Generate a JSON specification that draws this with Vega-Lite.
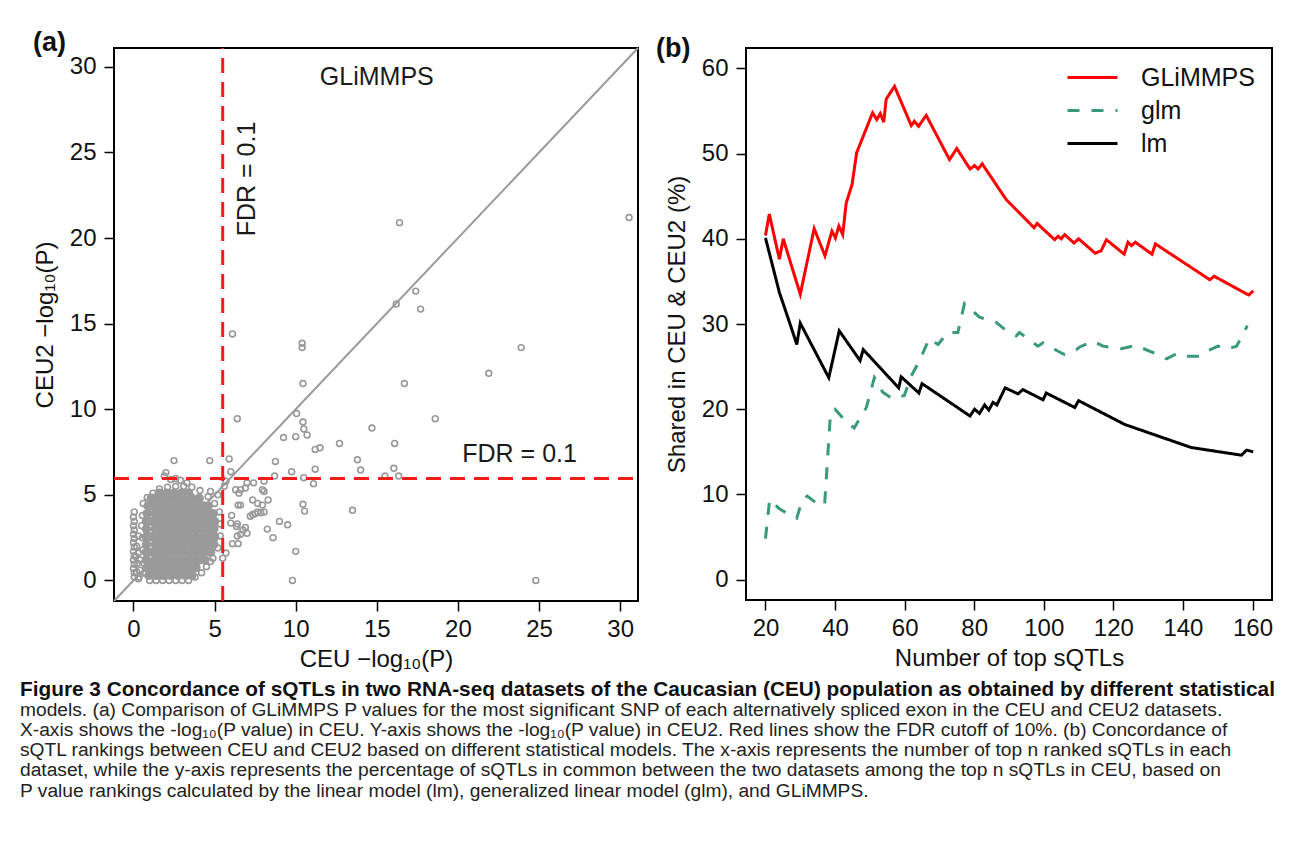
{
  "$schema": "https://vega.github.io/schema/vega-lite/v6.json",
  "background": "white",
  "padding": {"left": 20, "top": 28, "right": 5, "bottom": 5},
  "config": {
    "font": "Liberation Sans",
    "view": {"stroke": "#000", "strokeWidth": 2},
    "axis": {"domain": false, "grid": false, "tickSize": 10, "tickWidth": 1.5, "tickColor": "#000", "labelFont": "Liberation Sans", "labelFontSize": 24, "labelColor": "#111", "labelPadding": 6, "labelFlush": false, "labelOverlap": false, "titleFont": "Liberation Sans", "titleFontSize": 24, "titleFontWeight": "normal", "titleColor": "#111", "titlePadding": 6},
    "axisY": {"labelPadding": 8, "titlePadding": 12}
  },
  "datasets": {
    "core": [
      {"x":0.95,"y":0.3},{"x":1.4,"y":0.3},{"x":1.85,"y":0.3},{"x":2.3,"y":0.3},{"x":2.75,"y":0.3},{"x":3.2,"y":0.3},{"x":3.6,"y":0.3},
      {"x":0.85,"y":0.75},{"x":1.15,"y":0.75},{"x":1.6,"y":0.75},{"x":2.05,"y":0.75},{"x":2.5,"y":0.75},{"x":2.95,"y":0.75},{"x":3.4,"y":0.75},{"x":3.85,"y":0.75},
      {"x":0.8,"y":1.2},{"x":1.35,"y":1.2},{"x":1.8,"y":1.2},{"x":2.25,"y":1.2},{"x":2.7,"y":1.2},{"x":3.15,"y":1.2},{"x":3.6,"y":1.2},{"x":4.05,"y":1.2},{"x":4.4,"y":1.2},
      {"x":0.8,"y":1.65},{"x":1.15,"y":1.65},{"x":1.6,"y":1.65},{"x":2.05,"y":1.65},{"x":2.5,"y":1.65},{"x":2.95,"y":1.65},{"x":3.4,"y":1.65},{"x":3.85,"y":1.65},{"x":4.3,"y":1.65},{"x":4.75,"y":1.65},
      {"x":0.8,"y":2.1},{"x":1.35,"y":2.1},{"x":1.8,"y":2.1},{"x":2.25,"y":2.1},{"x":2.7,"y":2.1},{"x":3.15,"y":2.1},{"x":3.6,"y":2.1},{"x":4.05,"y":2.1},{"x":4.5,"y":2.1},{"x":4.95,"y":2.1},
      {"x":0.8,"y":2.55},{"x":1.15,"y":2.55},{"x":1.6,"y":2.55},{"x":2.05,"y":2.55},{"x":2.5,"y":2.55},{"x":2.95,"y":2.55},{"x":3.4,"y":2.55},{"x":3.85,"y":2.55},{"x":4.3,"y":2.55},{"x":4.75,"y":2.55},{"x":5.0,"y":2.55},
      {"x":0.8,"y":3.0},{"x":1.35,"y":3.0},{"x":1.8,"y":3.0},{"x":2.25,"y":3.0},{"x":2.7,"y":3.0},{"x":3.15,"y":3.0},{"x":3.6,"y":3.0},{"x":4.05,"y":3.0},{"x":4.5,"y":3.0},{"x":4.95,"y":3.0},
      {"x":0.8,"y":3.45},{"x":1.15,"y":3.45},{"x":1.6,"y":3.45},{"x":2.05,"y":3.45},{"x":2.5,"y":3.45},{"x":2.95,"y":3.45},{"x":3.4,"y":3.45},{"x":3.85,"y":3.45},{"x":4.3,"y":3.45},{"x":4.75,"y":3.45},{"x":5.0,"y":3.45},
      {"x":0.85,"y":3.9},{"x":1.35,"y":3.9},{"x":1.8,"y":3.9},{"x":2.25,"y":3.9},{"x":2.7,"y":3.9},{"x":3.15,"y":3.9},{"x":3.6,"y":3.9},{"x":4.05,"y":3.9},{"x":4.5,"y":3.9},{"x":4.9,"y":3.9},
      {"x":0.9,"y":4.35},{"x":1.15,"y":4.35},{"x":1.6,"y":4.35},{"x":2.05,"y":4.35},{"x":2.5,"y":4.35},{"x":2.95,"y":4.35},{"x":3.4,"y":4.35},{"x":3.85,"y":4.35},{"x":4.3,"y":4.35},{"x":4.6,"y":4.35},
      {"x":1.1,"y":4.8},{"x":1.35,"y":4.8},{"x":1.8,"y":4.8},{"x":2.25,"y":4.8},{"x":2.7,"y":4.8},{"x":3.15,"y":4.8},{"x":3.6,"y":4.8},{"x":4.05,"y":4.8},
      {"x":1.6,"y":5.1},{"x":2.05,"y":5.1},{"x":2.5,"y":5.1},{"x":2.95,"y":5.1},{"x":3.4,"y":5.1}
    ],
    "pts": [
      {"x":6.1,"y":14.4},{"x":10.4,"y":13.85},{"x":10.4,"y":13.6},{"x":23.9,"y":13.6},{"x":16.4,"y":20.9},{"x":30.55,"y":21.2},{"x":16.2,"y":16.15},{"x":17.4,"y":16.9},{"x":17.7,"y":15.85},
      {"x":10.45,"y":11.5},{"x":21.9,"y":12.1},{"x":16.7,"y":11.5},{"x":10.05,"y":9.75},{"x":6.4,"y":9.45},{"x":18.6,"y":9.45},{"x":10.45,"y":9.25},{"x":10.5,"y":8.85},{"x":10.7,"y":8.5},
      {"x":9.25,"y":8.35},{"x":10.0,"y":8.4},{"x":14.7,"y":8.9},{"x":12.7,"y":8.0},{"x":16.1,"y":8.0},{"x":11.2,"y":7.65},{"x":11.5,"y":7.75},{"x":13.8,"y":7.05},{"x":14.0,"y":6.45},
      {"x":8.75,"y":6.95},{"x":11.2,"y":6.5},{"x":9.75,"y":6.35},{"x":8.7,"y":6.1},{"x":10.5,"y":6.0},{"x":11.1,"y":5.65},{"x":15.5,"y":6.1},{"x":16.05,"y":6.55},{"x":16.35,"y":6.1},
      {"x":13.5,"y":4.1},{"x":24.8,"y":0.0},{"x":9.8,"y":0.0},{"x":10.0,"y":1.7},{"x":10.45,"y":4.45},{"x":10.55,"y":4.05},{"x":8.25,"y":3.0},{"x":8.6,"y":2.5},{"x":9.0,"y":3.45},{"x":9.5,"y":3.25},
      {"x":7.35,"y":4.7},{"x":7.95,"y":5.3},{"x":7.4,"y":5.7},{"x":8.05,"y":5.8},{"x":8.3,"y":4.7},{"x":6.6,"y":5.3},{"x":6.45,"y":4.4},{"x":5.9,"y":7.1},{"x":4.7,"y":7.0},{"x":2.5,"y":7.0},
      {"x":6.0,"y":6.35},{"x":7.35,"y":3.85},{"x":7.2,"y":3.75},{"x":6.05,"y":3.8},{"x":6.35,"y":3.15},{"x":6.75,"y":2.95},{"x":7.0,"y":2.75},{"x":6.1,"y":2.15},{"x":6.45,"y":2.15},
      {"x":7.85,"y":3.95},{"x":7.65,"y":4.0},{"x":7.5,"y":3.9},{"x":7.95,"y":4.4},{"x":7.65,"y":4.5},{"x":8.05,"y":4.0},{"x":8.05,"y":5.2},{"x":6.9,"y":5.4},{"x":6.5,"y":5.1},{"x":6.6,"y":4.4},
      {"x":5.7,"y":5.8},{"x":5.2,"y":5.0},{"x":4.75,"y":5.2},{"x":3.3,"y":5.7},{"x":2.9,"y":5.85},{"x":2.0,"y":6.3},{"x":1.9,"y":6.1},{"x":2.3,"y":5.9},{"x":2.6,"y":5.95},{"x":5.6,"y":5.5},
      {"x":4.75,"y":1.1},{"x":5.5,"y":1.3},{"x":5.7,"y":1.6},{"x":6.0,"y":3.35},{"x":6.4,"y":3.3},{"x":6.6,"y":2.7},{"x":6.9,"y":3.1},{"x":6.4,"y":2.6},{"x":7.0,"y":5.7},{"x":6.3,"y":5.3},
      {"x":0.6,"y":4.5},{"x":0.55,"y":3.8},{"x":0.5,"y":3.2},{"x":0.55,"y":2.5},{"x":0.6,"y":1.8},{"x":0.65,"y":1.0},{"x":0.75,"y":0.4},
      {"x":1.0,"y":0.0},{"x":1.4,"y":0.0},{"x":1.8,"y":0.0},{"x":2.2,"y":0.0},{"x":2.6,"y":0.0},{"x":3.0,"y":0.0},{"x":3.4,"y":0.0},
      {"x":3.8,"y":0.2},{"x":4.2,"y":0.45},{"x":4.5,"y":0.8},{"x":4.9,"y":1.3},{"x":5.2,"y":1.9},{"x":5.35,"y":2.6},{"x":5.35,"y":3.3},{"x":5.3,"y":4.0},{"x":5.0,"y":4.5},{"x":4.6,"y":4.9},
      {"x":4.1,"y":5.25},{"x":3.6,"y":5.45},{"x":3.1,"y":5.5},{"x":2.6,"y":5.5},{"x":2.1,"y":5.45},{"x":1.6,"y":5.35},{"x":1.2,"y":5.1},{"x":0.85,"y":4.85},
      {"x":0.05,"y":0.2},{"x":0.05,"y":0.45},{"x":0.0,"y":0.7},{"x":0.05,"y":0.95},{"x":0.0,"y":1.2},{"x":0.05,"y":1.45},{"x":0.0,"y":1.7},{"x":0.05,"y":1.95},{"x":0.0,"y":2.2},{"x":0.05,"y":2.45},
      {"x":0.0,"y":2.7},{"x":0.05,"y":2.95},{"x":0.0,"y":3.2},{"x":0.05,"y":3.45},{"x":0.0,"y":3.7},{"x":0.05,"y":4.0},
      {"x":0.2,"y":0.5},{"x":0.25,"y":1.0},{"x":0.3,"y":1.6},{"x":0.35,"y":0.2},{"x":0.2,"y":2.0},{"x":0.3,"y":2.6},{"x":0.4,"y":1.2},{"x":0.4,"y":0.6},{"x":0.15,"y":1.4},{"x":0.3,"y":0.1}
    ]
  },
  "title": {
    "text": "Figure 3 Concordance of sQTLs in two RNA-seq datasets of the Caucasian (CEU) population as obtained by different statistical",
    "subtitle": [
      "models. (a) Comparison of GLiMMPS P values for the most significant SNP of each alternatively spliced exon in the CEU and CEU2 datasets.",
      "X-axis shows the -log₁₀(P value) in CEU. Y-axis shows the -log₁₀(P value) in CEU2. Red lines show the FDR cutoff of 10%. (b) Concordance of",
      "sQTL rankings between CEU and CEU2 based on different statistical models. The x-axis represents the number of top n ranked sQTLs in each",
      "dataset, while the y-axis represents the percentage of sQTLs in common between the two datasets among the top n sQTLs in CEU, based on",
      "P value rankings calculated by the linear model (lm), generalized linear model (glm), and GLiMMPS."
    ],
    "orient": "bottom",
    "anchor": "start",
    "frame": "bounds",
    "dx": -12,
    "offset": 8,
    "font": "Liberation Sans",
    "fontSize": 20.8,
    "fontWeight": "bold",
    "color": "#111",
    "subtitleFont": "Liberation Sans",
    "subtitleFontSize": 19.2,
    "subtitleColor": "#222",
    "subtitleLineHeight": 20.2,
    "subtitlePadding": 0
  },
  "bounds": "flush",
  "spacing": 108,
  "hconcat": [
    {
      "width": 524,
      "height": 553,
      "title": {"text": "(a)", "anchor": "start", "frame": "group", "dx": -81, "offset": -36, "baseline": "alphabetic", "fontSize": 27, "fontWeight": "bold", "color": "#111"},
      "encoding": {
        "x": {"field": "x", "type": "quantitative", "scale": {"domain": [-1.2, 31.1], "nice": false, "zero": false}, "axis": {"values": [0, 5, 10, 15, 20, 25, 30], "title": "CEU  −log₁₀(P)"}},
        "y": {"field": "y", "type": "quantitative", "scale": {"domain": [-1.2, 31.1], "nice": false, "zero": false}, "axis": {"values": [0, 5, 10, 15, 20, 25, 30], "title": "CEU2  −log₁₀(P)"}}
      },
      "layer": [
        {"data": {"values": [{"x": -1.2, "y": -1.2}, {"x": 31.1, "y": 31.1}]}, "mark": {"type": "line", "color": "#9a9a9a", "strokeWidth": 2}},
        {"data": {"name": "core"}, "mark": {"type": "point", "shape": "circle", "filled": true, "size": 90, "color": "#9a9a9a", "opacity": 1}},
        {"data": {"name": "pts"}, "mark": {"type": "point", "shape": "circle", "filled": false, "size": 34, "strokeWidth": 1.6, "color": "#999999", "opacity": 1}},
        {"data": {"values": [{"x": 5.5, "y": -1.2, "g": "v"}, {"x": 5.5, "y": 31.1, "g": "v"}, {"x": -1.2, "y": 5.95, "g": "h"}, {"x": 31.1, "y": 5.95, "g": "h"}]}, "mark": {"type": "line", "color": "#ff1a1a", "strokeWidth": 3, "strokeDash": [15, 9]}, "encoding": {"detail": {"field": "g"}}},
        {"data": {"values": [{"x": 15.0, "y": 29.4, "t": "GLiMMPS"}, {"x": 23.8, "y": 7.37, "t": "FDR = 0.1"}]}, "mark": {"type": "text", "fontSize": 25, "color": "#1a1a1a"}, "encoding": {"text": {"field": "t"}}},
        {"data": {"values": [{"x": 7.0, "y": 23.45, "t": "FDR = 0.1"}]}, "mark": {"type": "text", "fontSize": 25, "angle": 270, "color": "#1a1a1a"}, "encoding": {"text": {"field": "t"}}}
      ]
    },
    {
      "width": 526,
      "height": 552,
      "title": {"text": "(b)", "anchor": "start", "frame": "group", "dx": -90, "offset": -36, "baseline": "alphabetic", "fontSize": 27, "fontWeight": "bold", "color": "#111"},
      "data": {"values": [
        {"m":"GLiMMPS","n":20,"v":40.4},{"m":"GLiMMPS","n":21.1,"v":42.9},{"m":"GLiMMPS","n":24,"v":37.6},{"m":"GLiMMPS","n":25.1,"v":40.0},{"m":"GLiMMPS","n":30,"v":33.5},{"m":"GLiMMPS","n":34,"v":41.2},{"m":"GLiMMPS","n":37.1,"v":38.0},{"m":"GLiMMPS","n":39.1,"v":40.9},{"m":"GLiMMPS","n":40.1,"v":40.1},{"m":"GLiMMPS","n":41.1,"v":41.5},{"m":"GLiMMPS","n":42.2,"v":40.5},{"m":"GLiMMPS","n":43.2,"v":44.2},{"m":"GLiMMPS","n":44.9,"v":46.4},{"m":"GLiMMPS","n":46.2,"v":50.1},{"m":"GLiMMPS","n":50.8,"v":54.8},{"m":"GLiMMPS","n":52,"v":54.0},{"m":"GLiMMPS","n":53,"v":54.7},{"m":"GLiMMPS","n":54,"v":53.7},{"m":"GLiMMPS","n":54.7,"v":56.4},{"m":"GLiMMPS","n":57.1,"v":57.9},{"m":"GLiMMPS","n":61.9,"v":53.3},{"m":"GLiMMPS","n":62.8,"v":53.8},{"m":"GLiMMPS","n":64,"v":53.2},{"m":"GLiMMPS","n":66.2,"v":54.5},{"m":"GLiMMPS","n":72.9,"v":49.3},{"m":"GLiMMPS","n":75,"v":50.6},{"m":"GLiMMPS","n":78.8,"v":48.2},{"m":"GLiMMPS","n":80.1,"v":48.6},{"m":"GLiMMPS","n":81.1,"v":48.2},{"m":"GLiMMPS","n":82.3,"v":48.8},{"m":"GLiMMPS","n":89.2,"v":44.6},{"m":"GLiMMPS","n":97.2,"v":41.3},{"m":"GLiMMPS","n":98.1,"v":41.8},{"m":"GLiMMPS","n":103.1,"v":39.9},{"m":"GLiMMPS","n":104.1,"v":40.3},{"m":"GLiMMPS","n":105,"v":40.0},{"m":"GLiMMPS","n":106,"v":40.5},{"m":"GLiMMPS","n":108.7,"v":39.5},{"m":"GLiMMPS","n":110,"v":40.0},{"m":"GLiMMPS","n":114.8,"v":38.3},{"m":"GLiMMPS","n":116.5,"v":38.6},{"m":"GLiMMPS","n":118,"v":39.9},{"m":"GLiMMPS","n":123.1,"v":38.2},{"m":"GLiMMPS","n":124.2,"v":39.6},{"m":"GLiMMPS","n":125.2,"v":39.2},{"m":"GLiMMPS","n":126.3,"v":39.6},{"m":"GLiMMPS","n":131.1,"v":38.2},{"m":"GLiMMPS","n":132.1,"v":39.4},{"m":"GLiMMPS","n":147.7,"v":35.2},{"m":"GLiMMPS","n":149,"v":35.6},{"m":"GLiMMPS","n":158.9,"v":33.4},{"m":"GLiMMPS","n":160.2,"v":33.9},
        {"m":"glm","n":20,"v":4.8},{"m":"glm","n":21.2,"v":9.4},{"m":"glm","n":24,"v":8.3},{"m":"glm","n":27,"v":7.6},{"m":"glm","n":29,"v":7.2},{"m":"glm","n":30.5,"v":9.3},{"m":"glm","n":32,"v":9.8},{"m":"glm","n":35.5,"v":8.7},{"m":"glm","n":37,"v":8.8},{"m":"glm","n":38.7,"v":19.6},{"m":"glm","n":40,"v":20.0},{"m":"glm","n":43,"v":18.6},{"m":"glm","n":45.5,"v":17.8},{"m":"glm","n":49,"v":20.2},{"m":"glm","n":51.3,"v":23.7},{"m":"glm","n":53.7,"v":22.0},{"m":"glm","n":56.6,"v":21.2},{"m":"glm","n":59.9,"v":21.6},{"m":"glm","n":61.9,"v":23.9},{"m":"glm","n":64.3,"v":25.7},{"m":"glm","n":67.1,"v":28.3},{"m":"glm","n":69.6,"v":27.6},{"m":"glm","n":72.4,"v":29.0},{"m":"glm","n":75.3,"v":29.0},{"m":"glm","n":77.2,"v":32.4},{"m":"glm","n":81.5,"v":30.8},{"m":"glm","n":86.3,"v":30.2},{"m":"glm","n":88.7,"v":29.4},{"m":"glm","n":92.1,"v":28.6},{"m":"glm","n":93,"v":29.0},{"m":"glm","n":98.3,"v":27.4},{"m":"glm","n":99.8,"v":27.8},{"m":"glm","n":104.1,"v":26.8},{"m":"glm","n":106,"v":26.4},{"m":"glm","n":109.4,"v":27.0},{"m":"glm","n":110.3,"v":27.3},{"m":"glm","n":114.2,"v":28.0},{"m":"glm","n":117,"v":27.4},{"m":"glm","n":122.3,"v":27.1},{"m":"glm","n":126.6,"v":27.5},{"m":"glm","n":128.1,"v":27.2},{"m":"glm","n":132.9,"v":26.4},{"m":"glm","n":135.3,"v":25.9},{"m":"glm","n":138.6,"v":26.6},{"m":"glm","n":141.5,"v":26.2},{"m":"glm","n":144.8,"v":26.2},{"m":"glm","n":146.8,"v":26.8},{"m":"glm","n":150.1,"v":27.4},{"m":"glm","n":152.5,"v":27.0},{"m":"glm","n":155.4,"v":27.4},{"m":"glm","n":157.3,"v":28.8},{"m":"glm","n":158.5,"v":29.8},
        {"m":"lm","n":20,"v":40.1},{"m":"lm","n":24,"v":33.7},{"m":"lm","n":26.9,"v":30.2},{"m":"lm","n":29,"v":27.6},{"m":"lm","n":30,"v":30.1},{"m":"lm","n":38.2,"v":23.7},{"m":"lm","n":41.2,"v":29.2},{"m":"lm","n":47.2,"v":25.7},{"m":"lm","n":48.1,"v":27.0},{"m":"lm","n":58.3,"v":22.5},{"m":"lm","n":59,"v":23.8},{"m":"lm","n":64.1,"v":21.9},{"m":"lm","n":65,"v":23.0},{"m":"lm","n":78.8,"v":19.2},{"m":"lm","n":80.1,"v":20.0},{"m":"lm","n":81.5,"v":19.5},{"m":"lm","n":83,"v":20.5},{"m":"lm","n":84.2,"v":19.9},{"m":"lm","n":85.4,"v":20.8},{"m":"lm","n":86.5,"v":20.5},{"m":"lm","n":88.9,"v":22.5},{"m":"lm","n":92.6,"v":21.8},{"m":"lm","n":94,"v":22.3},{"m":"lm","n":99.8,"v":21.1},{"m":"lm","n":100.7,"v":21.9},{"m":"lm","n":108.9,"v":20.2},{"m":"lm","n":110,"v":21.0},{"m":"lm","n":123.3,"v":18.2},{"m":"lm","n":142.4,"v":15.5},{"m":"lm","n":156.8,"v":14.6},{"m":"lm","n":158.3,"v":15.2},{"m":"lm","n":160.2,"v":15.0}
      ]},
      "mark": {"type": "line", "strokeWidth": 3},
      "encoding": {
        "x": {"field": "n", "type": "quantitative", "scale": {"domain": [14.4, 165.6], "nice": false, "zero": false}, "axis": {"values": [20, 40, 60, 80, 100, 120, 140, 160], "title": "Number of top sQTLs"}},
        "y": {"field": "v", "type": "quantitative", "scale": {"domain": [-2.4, 62.4], "nice": false, "zero": false}, "axis": {"values": [0, 10, 20, 30, 40, 50, 60], "title": "Shared in CEU & CEU2 (%)"}},
        "color": {"field": "m", "type": "nominal", "scale": {"domain": ["GLiMMPS", "glm", "lm"], "range": ["#ff0000", "#3a9a78", "#000000"]},
          "legend": {"orient": "none", "legendX": 952, "legendY": 17, "title": null, "padding": 0, "symbolType": "stroke", "symbolSize": 2500, "symbolStrokeWidth": 3, "labelFont": "Liberation Sans", "labelFontSize": 25, "labelColor": "#111", "labelOffset": 22, "rowPadding": 7, "clipHeight": 25}},
        "strokeDash": {"field": "m", "type": "nominal", "scale": {"domain": ["GLiMMPS", "glm", "lm"], "range": [[1, 0], [12, 12], [1, 0]]},
          "legend": {"orient": "none", "legendX": 952, "legendY": 17, "title": null, "padding": 0, "symbolType": "stroke", "symbolSize": 2500, "symbolStrokeWidth": 3, "labelFont": "Liberation Sans", "labelFontSize": 25, "labelColor": "#111", "labelOffset": 22, "rowPadding": 7, "clipHeight": 25}}
      }
    }
  ]
}
